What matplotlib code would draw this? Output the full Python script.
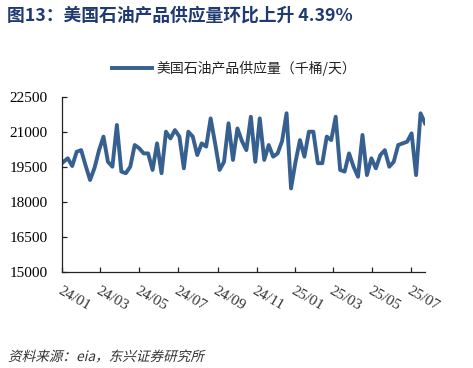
import matplotlib
matplotlib.use("Agg")
import matplotlib.pyplot as plt
import matplotlib.dates as mdates
from matplotlib.patheffects import AbstractPathEffect
from matplotlib.transforms import Affine2D
import pandas as pd
import numpy as np

# ---- data ----
start_date = "2024-01-03"
supply = [19700, 19860, 19530, 20140, 20210, 19550, 18930, 19450, 20200, 20790,
          19710, 19500, 21290, 19290, 19220, 19500, 20430, 20290, 20070, 20070,
          19360, 20500, 19220, 21000, 20710, 21070, 20790, 19430, 21000, 20790,
          20000, 20500, 20360, 21570, 20500, 19360, 19710, 21360, 19790, 21140,
          20600, 20210, 21640, 19710, 21570, 19790, 20430, 19930, 20070, 20600,
          21790, 18570, 19700, 20640, 19930, 21000, 21000, 19650, 19650, 20790,
          20640, 21640, 19360, 19290, 20070, 19500, 19070, 20860, 19140, 19860,
          19430, 20000, 20210, 19500, 19710, 20430, 20500, 20570, 20930, 19140,
          21790, 21360]
y_ticks = [15000, 16500, 18000, 19500, 21000, 22500]
series_name = "美国石油产品供应量（千桶/天）"
title = "图13：美国石油产品供应量环比上升 4.39%"
source = "资料来源：eia，东兴证券研究所"

dates = pd.date_range(start_date, periods=len(supply), freq="7D")

CJK = ["Noto Sans CJK SC", "DejaVu Sans"]
SERIF = ["Liberation Serif", "DejaVu Serif"]
LINE_C = "#36608F"


class Skew(AbstractPathEffect):
    def __init__(self, deg=14):
        super().__init__()
        self.deg = deg

    def draw_path(self, renderer, gc, tpath, affine, rgbFace=None):
        m = affine.get_matrix()
        tx, ty = m[0, 2], m[1, 2]
        sk = Affine2D().translate(-tx, -ty).skew_deg(self.deg, 0).translate(tx, ty)
        renderer.draw_path(gc, tpath, affine + sk, rgbFace)


fig = plt.figure(figsize=(4.73, 3.68), dpi=100)
ax = fig.add_axes([62 / 473, 1 - 271.7 / 368, 363 / 473, 175 / 368])

ax.plot(dates, supply, color=LINE_C, lw=2.8, solid_joinstyle="round",
        label=series_name)

ax.set_ylim(15000, 22500)
ax.set_yticks(y_ticks)
ax.set_xlim(pd.Timestamp("2024-01-01"), dates[-1])
ax.xaxis.set_major_locator(mdates.MonthLocator(bymonth=[1, 3, 5, 7, 9, 11]))
ax.xaxis.set_major_formatter(mdates.DateFormatter("%y/%m"))

for s in ["top", "right"]:
    ax.spines[s].set_visible(False)
for s in ["left", "bottom"]:
    ax.spines[s].set_color("#222222")
    ax.spines[s].set_linewidth(0.9)

ax.tick_params(axis="y", direction="in", length=3.5, width=0.9, pad=10.5,
               colors="#222222", labelsize=11)
ax.tick_params(axis="x", direction="in", length=3.5, width=0.9, pad=9,
               colors="#222222", labelsize=11)
for lab in ax.get_yticklabels():
    lab.set_family(SERIF)
    lab.set_color("black")
for lab in ax.get_xticklabels():
    lab.set_family(SERIF)
    lab.set_rotation(-30)
    lab.set_rotation_mode("anchor")
    lab.set_ha("left")
    lab.set_va("top")
    lab.set_color("#333333")

leg = fig.legend(loc="center", bbox_to_anchor=(0.495, 1 - 68 / 368), frameon=False,
                 prop={"family": CJK, "size": 10}, handlelength=2.9,
                 handletextpad=0.35)
for t in leg.get_texts():
    t.set_color("#222222")

fig.text(7 / 473, 1 - 16 / 368, title, family=CJK, weight="bold", size=12.8,
         color="#1F3A70", ha="left", va="center")

fig.text(8 / 473, 1 - 357 / 368, source, family=CJK, size=9.8, color="#333333",
         ha="left", va="center", path_effects=[Skew(14)])

fig.savefig("out.png", dpi=100)
